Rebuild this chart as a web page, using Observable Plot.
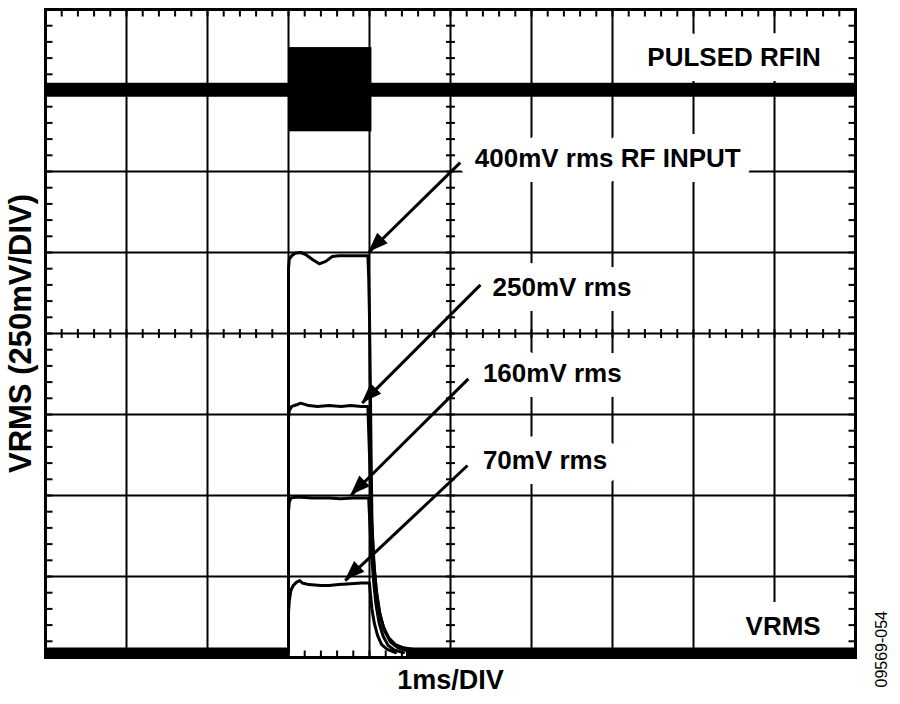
<!DOCTYPE html>
<html>
<head>
<meta charset="utf-8">
<script src="https://cdn.jsdelivr.net/npm/d3@7"></script>
<script src="https://cdn.jsdelivr.net/npm/@observablehq/plot@0.6"></script>
<style>
  html, body { margin: 0; padding: 0; background: #fff; }
  #chart { width: 900px; height: 704px; }
</style>
</head>
<body>
<div id="chart"></div>
<script>
// ---- Scope settings (divisions): x in ms (1 ms/DIV), y in divisions (250 mV/DIV) ----
const xDivisions = [0, 1, 2, 3, 4, 5, 6, 7, 8, 9, 10];
const yDivisions = [0, 1, 2, 3, 4, 5, 6, 7, 8];

// ---- PULSED RFIN channel ----
const rfinBaseline = [[0, 7.01], [10, 7.01]];
const rfinBurst = [{t1: 3.0, t2: 4.03, v1: 6.49, v2: 7.53}];

// ---- VRMS channel (baseline and four traces) ----
const vrmsBaselineBefore = [[0, 0.062], [3.0, 0.062]];
const vrmsBaselineAfter = [[4.45, 0.062], [10, 0.062]];

const trace400 = [
  [3.00, 0.06], [3.00, 4.80], [3.01, 4.92], [3.04, 4.96], [3.08, 4.99], [3.15, 5.00],
  [3.22, 4.97], [3.30, 4.91], [3.38, 4.86], [3.46, 4.89], [3.54, 4.95], [3.62, 4.96],
  [3.80, 4.96], [3.98, 4.96], [3.99, 4.70], [4.00, 4.20], [4.01, 3.40], [4.02, 2.50],
  [4.03, 1.70], [4.05, 1.20], [4.08, 0.85], [4.12, 0.58], [4.17, 0.38], [4.24, 0.24],
  [4.32, 0.16], [4.42, 0.12], [4.60, 0.09], [4.85, 0.07]
];
const trace250 = [
  [3.00, 0.06], [3.00, 2.95], [3.01, 3.05], [3.04, 3.10], [3.10, 3.12], [3.15, 3.14],
  [3.25, 3.11], [3.36, 3.10], [3.50, 3.11], [3.65, 3.10], [3.77, 3.11], [3.90, 3.10],
  [3.98, 3.10], [3.99, 2.80], [4.01, 2.20], [4.03, 1.60], [4.06, 1.10], [4.09, 0.78],
  [4.13, 0.52], [4.19, 0.32], [4.26, 0.19], [4.35, 0.12], [4.48, 0.08]
];
const trace160 = [
  [3.00, 0.06], [3.00, 1.80], [3.01, 1.92], [3.03, 1.97], [3.10, 1.98], [3.30, 1.97],
  [3.50, 1.97], [3.64, 1.96], [3.80, 1.97], [3.99, 1.97], [4.00, 1.75], [4.02, 1.35],
  [4.05, 0.95], [4.08, 0.65], [4.12, 0.42], [4.17, 0.26], [4.23, 0.15], [4.31, 0.09],
  [4.42, 0.06]
];
const trace70 = [
  [3.00, 0.06], [3.00, 0.55], [3.01, 0.70], [3.03, 0.83], [3.06, 0.89], [3.10, 0.93],
  [3.14, 0.95], [3.17, 0.92], [3.25, 0.90], [3.40, 0.89], [3.50, 0.89], [3.62, 0.90],
  [3.77, 0.91], [3.90, 0.92], [4.00, 0.92], [4.01, 0.80], [4.03, 0.60], [4.06, 0.42],
  [4.10, 0.27], [4.15, 0.16], [4.22, 0.10], [4.32, 0.06]
];
const traceNames = ["400mV rms", "250mV rms", "160mV rms", "70mV rms"];
const traceData = [trace400, trace250, trace160, trace70];

// ---- Annotations (data units) ----
const annLabels = ["400mV rms RF INPUT", "250mV rms", "160mV rms", "70mV rms"];
const annTextX = [5.30, 5.52, 5.40, 5.40];
const annTextY = [6.16, 4.57, 3.51, 2.43];
const arrowFromX = [5.12, 5.37, 5.22, 5.21];
const arrowFromY = [6.11, 4.60, 3.44, 2.37];
const arrowToX = [3.99, 3.91, 3.77, 3.70];
const arrowToY = [5.00, 3.14, 2.00, 0.95];

const channelLabels = ["PULSED RFIN", "VRMS"];
const channelLabelX = [9.57, 9.57];
const channelLabelY = [7.41, 0.38];

const yTitle = "VRMS (250mV/DIV)";
const xTitle = "1ms/DIV";
const figureCode = "09569-054";

// ---- build tables ----
const traces = traceData.flatMap((pts, i) => pts.map(([t, v]) => ({name: traceNames[i], t, v})));
const annotations = annLabels.map((label, i) => ({
  label, x: annTextX[i], y: annTextY[i],
  x1: arrowFromX[i], y1: arrowFromY[i], x2: arrowToX[i], y2: arrowToY[i]
}));
const channels = channelLabels.map((label, i) => ({label, x: channelLabelX[i], y: channelLabelY[i]}));

const xMinor = d3.range(0, 10.001, 0.2);
const yMinor = d3.range(0, 8.001, 0.2);

// tick symbols (drawn from the dot's position)
const sym = (dx0, dy0, dx1, dy1) => ({
  draw(ctx, size) {
    const r = Math.sqrt(size / Math.PI);
    ctx.moveTo(dx0 * r, dy0 * r);
    ctx.lineTo(dx1 * r, dy1 * r);
  }
});
const tickDown = sym(0, 0, 0, 1);
const tickUp = sym(0, 0, 0, -1);
const tickRight = sym(0, 0, 1, 0);
const tickLeft = sym(0, 0, -1, 0);
const tickV = sym(0, -1, 0, 1);
const tickH = sym(-1, 0, 1, 0);

const FONT = "'Liberation Sans', Arial, Helvetica, sans-serif";
const tickStyle = {fill: "none", stroke: "black", strokeWidth: 2};

function arrowHeads(index, scales) {
  const g = d3.create("svg:g");
  for (const a of annotations) {
    const x1 = scales.x(a.x1), y1 = scales.y(a.y1);
    const x2 = scales.x(a.x2), y2 = scales.y(a.y2);
    const ang = Math.atan2(y2 - y1, x2 - x1);
    const L = 20, W = 7.5;
    const bx = x2 - L * Math.cos(ang), by = y2 - L * Math.sin(ang);
    const px = -Math.sin(ang) * W, py = Math.cos(ang) * W;
    g.append("path")
      .attr("d", `M${x2},${y2}L${bx + px},${by + py}L${bx - px},${by - py}Z`)
      .attr("fill", "black");
  }
  return g.node();
}

const band = {stroke: "black", strokeLinecap: "butt"};

const chart = Plot.plot({
  width: 900,
  height: 704,
  marginLeft: 45,
  marginRight: 45,
  marginTop: 9,
  marginBottom: 47,
  x: {domain: [0, 10], axis: null},
  y: {domain: [0, 8], axis: null},
  style: {background: "white", fontFamily: FONT, color: "black"},
  marks: [
    // major graticule
    Plot.ruleX(xDivisions, {x: d => d, stroke: "black", strokeWidth: 2, strokeOpacity: 1}),
    Plot.ruleY(yDivisions, {y: d => d, stroke: "black", strokeWidth: 2, strokeOpacity: 1}),
    // minor ticks on the frame edges and on the centre lines
    Plot.dot(xMinor, {x: d => d, frameAnchor: "top", symbol: tickDown, r: 7, ...tickStyle}),
    Plot.dot(xMinor, {x: d => d, frameAnchor: "bottom", symbol: tickUp, r: 7, ...tickStyle}),
    Plot.dot(yMinor, {y: d => d, frameAnchor: "left", symbol: tickRight, r: 7, ...tickStyle}),
    Plot.dot(yMinor, {y: d => d, frameAnchor: "right", symbol: tickLeft, r: 7, ...tickStyle}),
    Plot.dot(xMinor, {x: d => d, y: () => 4, symbol: tickV, r: 4.5, ...tickStyle}),
    Plot.dot(yMinor, {x: () => 5, y: d => d, symbol: tickH, r: 4.5, ...tickStyle}),
    // labels with white boxes
    Plot.text(annotations, {
      x: "x", y: "y", text: "label", textAnchor: "start",
      fontSize: 26, fontWeight: "bold", fill: "black",
      stroke: "white", strokeWidth: 30, strokeLinejoin: "round", paintOrder: "stroke"
    }),
    Plot.text(channels, {
      x: "x", y: "y", text: "label", textAnchor: "end",
      fontSize: 26, fontWeight: "bold", fill: "black",
      stroke: "white", strokeWidth: 30, strokeLinejoin: "round", paintOrder: "stroke"
    }),
    // PULSED RFIN channel
    Plot.line(rfinBaseline, {x: d => d[0], y: d => d[1], ...band, strokeWidth: 14}),
    Plot.rect(rfinBurst, {x1: "t1", x2: "t2", y1: "v1", y2: "v2", fill: "black"}),
    // VRMS channel
    Plot.line(vrmsBaselineBefore, {x: d => d[0], y: d => d[1], ...band, strokeWidth: 10}),
    Plot.line(vrmsBaselineAfter, {x: d => d[0], y: d => d[1], ...band, strokeWidth: 10}),
    Plot.line(traces, {x: "t", y: "v", z: "name", stroke: "black", strokeWidth: 3, curve: "linear"}),
    // arrows
    Plot.link(annotations, {x1: "x1", y1: "y1", x2: "x2", y2: "y2", stroke: "black", strokeWidth: 3}),
    arrowHeads,
    // axis titles and figure code
    Plot.text([yTitle], {
      frameAnchor: "left", dx: -24, rotate: -90, textAnchor: "middle",
      fontSize: 31, fontWeight: "bold", fill: "black"
    }),
    Plot.text([xTitle], {
      frameAnchor: "bottom", dy: 31, textAnchor: "middle",
      fontSize: 27, fontWeight: "bold", fill: "black"
    }),
    Plot.text([figureCode], {
      frameAnchor: "bottom-right", dx: 31, dy: 30, rotate: -90, textAnchor: "start",
      fontSize: 16, fill: "black"
    }),
    Plot.frame({stroke: "black", strokeWidth: 3})
  ]
});
document.getElementById("chart").appendChild(chart);
</script>
</body>
</html>
